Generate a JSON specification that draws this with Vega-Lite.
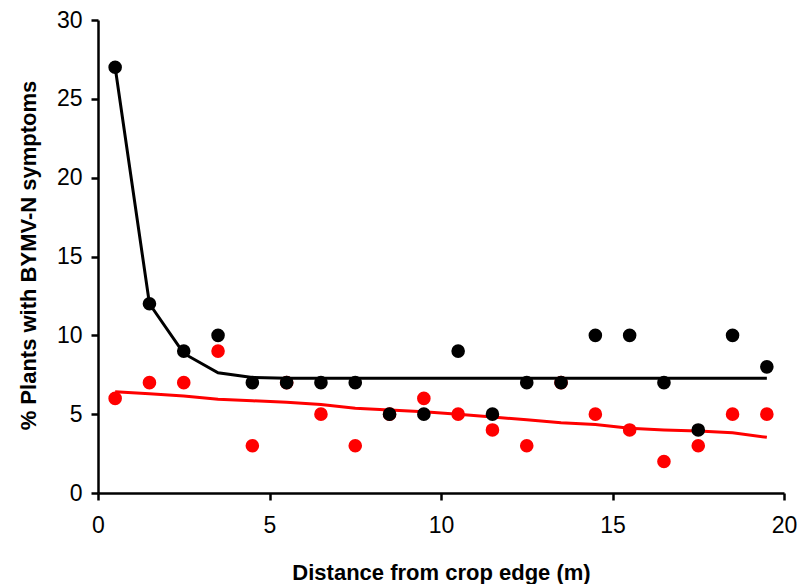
{
  "$schema": "https://vega.github.io/schema/vega-lite/v6.json",
  "width": 686,
  "height": 473,
  "autosize": {"type": "none"},
  "padding": {"left": 98, "top": 20, "right": 27, "bottom": 91},
  "background": "white",
  "config": {
    "view": {"stroke": null},
    "font": "Liberation Sans",
    "axis": {
      "grid": false,
      "domainColor": "black",
      "domainWidth": 2.5,
      "tickColor": "black",
      "tickWidth": 2.5,
      "tickSize": 7,
      "labelFlush": false,
      "labelOverlap": false,
      "labelFont": "Liberation Sans",
      "labelFontSize": 23,
      "labelColor": "black",
      "titleFont": "Liberation Sans",
      "titleFontSize": 22,
      "titleFontWeight": "bold",
      "titleColor": "black"
    }
  },
  "data": {
    "values": [
      {"x": 0.5, "series": "black", "obs": 27, "fit": 27.0},
      {"x": 1.5, "series": "black", "obs": 12, "fit": 12.0},
      {"x": 2.5, "series": "black", "obs": 9, "fit": 8.85},
      {"x": 3.5, "series": "black", "obs": 10, "fit": 7.63},
      {"x": 4.5, "series": "black", "obs": 7, "fit": 7.33},
      {"x": 5.5, "series": "black", "obs": 7, "fit": 7.28},
      {"x": 6.5, "series": "black", "obs": 7, "fit": 7.28},
      {"x": 7.5, "series": "black", "obs": 7, "fit": 7.28},
      {"x": 8.5, "series": "black", "obs": 5, "fit": 7.28},
      {"x": 9.5, "series": "black", "obs": 5, "fit": 7.28},
      {"x": 10.5, "series": "black", "obs": 9, "fit": 7.28},
      {"x": 11.5, "series": "black", "obs": 5, "fit": 7.28},
      {"x": 12.5, "series": "black", "obs": 7, "fit": 7.28},
      {"x": 13.5, "series": "black", "obs": 7, "fit": 7.28},
      {"x": 14.5, "series": "black", "obs": 10, "fit": 7.28},
      {"x": 15.5, "series": "black", "obs": 10, "fit": 7.28},
      {"x": 16.5, "series": "black", "obs": 7, "fit": 7.28},
      {"x": 17.5, "series": "black", "obs": 4, "fit": 7.28},
      {"x": 18.5, "series": "black", "obs": 10, "fit": 7.28},
      {"x": 19.5, "series": "black", "obs": 8, "fit": 7.28},
      {"x": 0.5, "series": "red", "obs": 6, "fit": 6.42},
      {"x": 1.5, "series": "red", "obs": 7, "fit": 6.3},
      {"x": 2.5, "series": "red", "obs": 7, "fit": 6.15},
      {"x": 3.5, "series": "red", "obs": 9, "fit": 5.94},
      {"x": 4.5, "series": "red", "obs": 3, "fit": 5.85},
      {"x": 5.5, "series": "red", "obs": 7, "fit": 5.75},
      {"x": 6.5, "series": "red", "obs": 5, "fit": 5.62},
      {"x": 7.5, "series": "red", "obs": 3, "fit": 5.37},
      {"x": 8.5, "series": "red", "obs": 5, "fit": 5.27},
      {"x": 9.5, "series": "red", "obs": 6, "fit": 5.15},
      {"x": 10.5, "series": "red", "obs": 5, "fit": 5.0},
      {"x": 11.5, "series": "red", "obs": 4, "fit": 4.82},
      {"x": 12.5, "series": "red", "obs": 3, "fit": 4.64},
      {"x": 13.5, "series": "red", "obs": 7, "fit": 4.46},
      {"x": 14.5, "series": "red", "obs": 5, "fit": 4.35},
      {"x": 15.5, "series": "red", "obs": 4, "fit": 4.1},
      {"x": 16.5, "series": "red", "obs": 2, "fit": 4.0},
      {"x": 17.5, "series": "red", "obs": 3, "fit": 3.93},
      {"x": 18.5, "series": "red", "obs": 5, "fit": 3.82},
      {"x": 19.5, "series": "red", "obs": 5, "fit": 3.53}
    ]
  },
  "encoding": {
    "x": {
      "field": "x",
      "type": "quantitative",
      "scale": {"domain": [0, 20], "nice": false, "zero": false},
      "axis": {
        "title": "Distance from crop edge (m)",
        "values": [0, 5, 10, 15, 20],
        "labelPadding": 14,
        "titleX": 343,
        "titleY": 86,
        "titleBaseline": "alphabetic",
        "titleAnchor": null
      }
    }
  },
  "layer": [
    {
      "transform": [{"filter": "datum.series === 'red'"}],
      "mark": {"type": "line", "color": "#ff0000", "strokeWidth": 3},
      "encoding": {
        "y": {
          "field": "fit",
          "type": "quantitative",
          "scale": {"domain": [0, 30], "nice": false},
          "axis": {
            "title": "% Plants with BYMV-N symptoms",
            "values": [0, 5, 10, 15, 20, 25, 30],
            "labelPadding": 9,
            "titleX": -63,
            "titleY": 235,
            "titleBaseline": "alphabetic",
            "titleAngle": -90,
            "titleAnchor": null
          }
        }
      }
    },
    {
      "transform": [{"filter": "datum.series === 'red'"}],
      "mark": {"type": "point", "filled": true, "color": "#ff0000", "size": 185, "opacity": 1},
      "encoding": {"y": {"field": "obs", "type": "quantitative"}}
    },
    {
      "transform": [{"filter": "datum.series === 'black'"}],
      "mark": {"type": "line", "color": "black", "strokeWidth": 3},
      "encoding": {"y": {"field": "fit", "type": "quantitative"}}
    },
    {
      "transform": [{"filter": "datum.series === 'black'"}],
      "mark": {"type": "point", "filled": true, "color": "black", "size": 185, "opacity": 1},
      "encoding": {"y": {"field": "obs", "type": "quantitative"}}
    }
  ]
}
